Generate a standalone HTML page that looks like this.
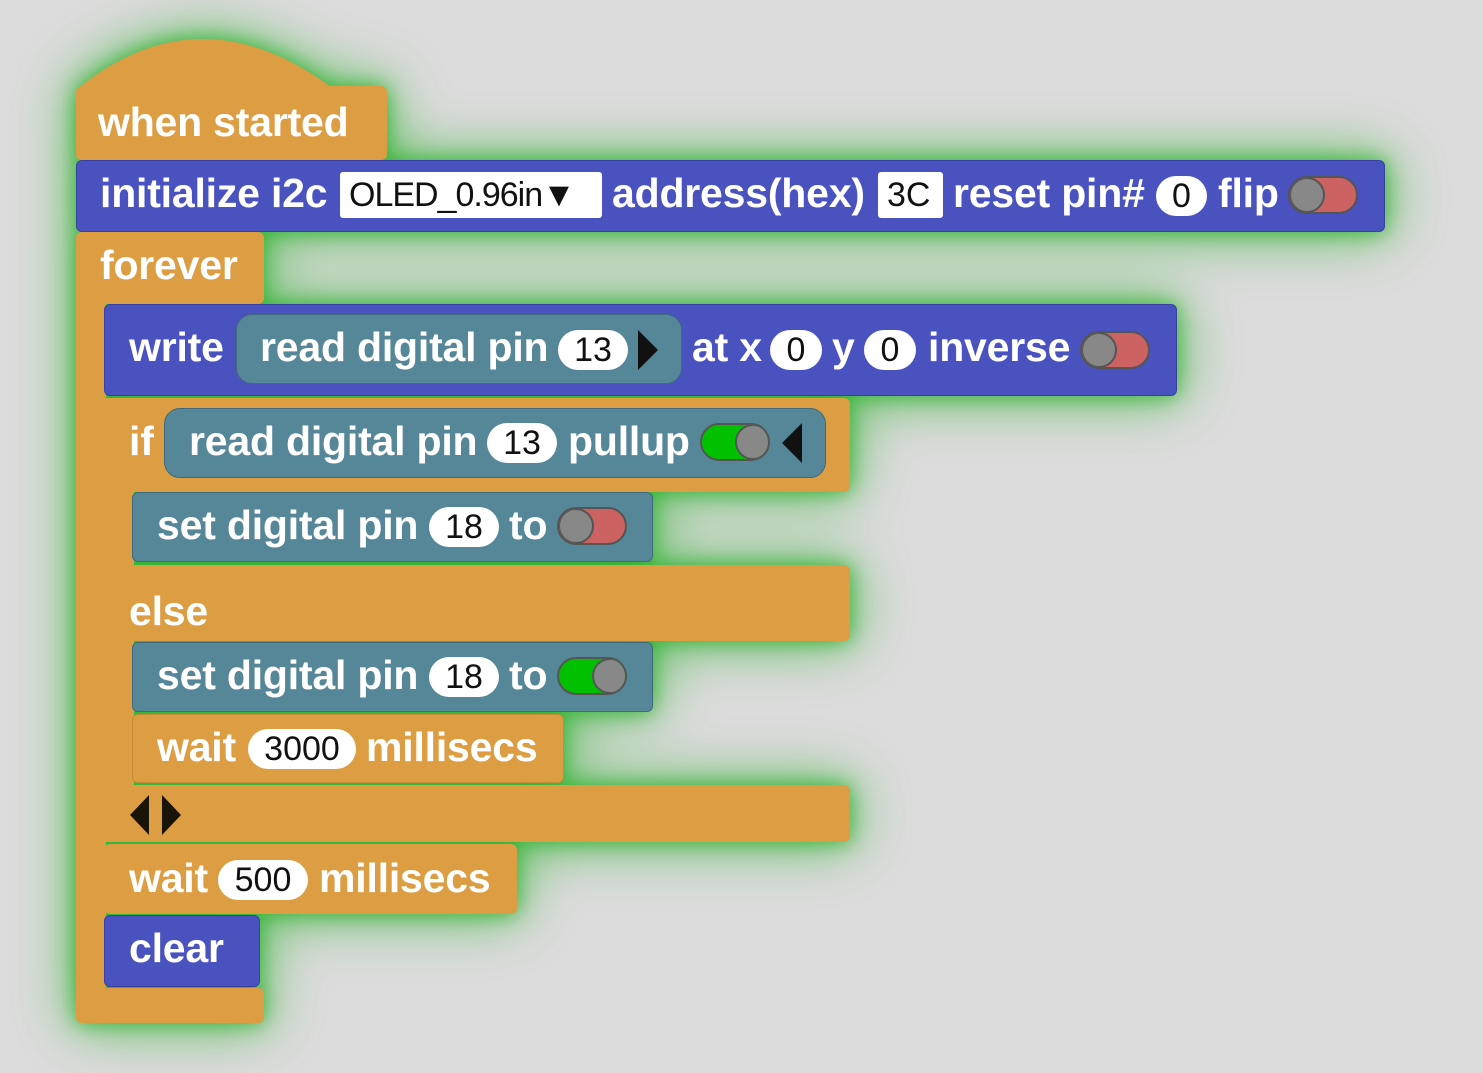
<!DOCTYPE html>
<html><head><meta charset="utf-8"><style>
body{margin:0;width:1483px;height:1073px;background:#dcdcdc;overflow:hidden;font-family:"Liberation Sans",sans-serif}
#g{position:absolute;left:0;top:0;width:1483px;height:1073px;filter:drop-shadow(0 0 10px rgba(50,180,50,.95)) drop-shadow(0 0 28px rgba(60,180,60,.8))}
.b{position:absolute;box-sizing:border-box;border-radius:6px}
.o{background:#dd9e43}
.u{background:#4952bf;border:1px solid #3840a0}
.t{background:#558799;border:1px solid #3e6b7c}
.r{border-radius:16px}
.l{position:absolute;color:#fff;font-weight:bold;font-size:41px;line-height:1;white-space:nowrap;letter-spacing:-0.2px}
.p{position:absolute;background:#fff;border-radius:20px;color:#111;font-size:34px;line-height:40px;text-align:center;height:40px}
.bx{position:absolute;background:#fff;border-radius:3px;color:#111;font-size:34px;line-height:46px;height:46px}
.tg{position:absolute;width:70px;height:38px;border-radius:19px;box-sizing:border-box;border:2px solid #555;overflow:hidden}
.tg i{position:absolute;top:-1px;width:36px;height:36px;border-radius:18px;background:#888;border:2px solid #555;box-sizing:border-box}
.tri{position:absolute;width:0;height:0;border-top:20px solid transparent;border-bottom:20px solid transparent}
</style></head><body>
<div id="g">
<svg style="position:absolute;left:0;top:0" width="1483" height="1073"><path d="M76 90 Q200 -12 335 90 Z" fill="#dd9e43"/></svg>
<div class="b o" style="left:76px;top:86px;width:311px;height:74px"></div>
<div class="l" style="left:98px;top:102px">when started</div>
<div class="b o" style="left:76px;top:232px;width:188px;height:72px"></div>
<div class="b o" style="left:76px;top:232px;width:30px;height:790px;border-radius:6px 0 0 6px"></div>
<div class="b o" style="left:76px;top:988px;width:188px;height:35px"></div>
<div class="l" style="left:100px;top:245px">forever</div>
<div class="b u" style="left:76px;top:160px;width:1309px;height:72px"></div>
<div class="l" style="left:100px;top:173px">initialize i2c</div>
<div class="bx" style="left:340px;top:172px;width:262px"><span style="position:absolute;left:9px;letter-spacing:-1px">OLED_0.96in▼</span></div>
<div class="l" style="left:612px;top:173px">address(hex)</div>
<div class="bx" style="left:878px;top:172px;width:65px"><span style="position:absolute;left:9px">3C</span></div>
<div class="l" style="left:953px;top:173px">reset pin#</div>
<div class="p" style="left:1156px;top:176px;width:51px">0</div>
<div class="l" style="left:1218px;top:173px">flip</div>
<div class="tg" style="left:1288px;top:176px;background:#cc6262"><i style="left:-1px"></i></div>
<div class="b u" style="left:104px;top:304px;width:1073px;height:92px"></div>
<div class="l" style="left:129px;top:327px">write</div>
<div class="b t r" style="left:236px;top:314px;width:446px;height:70px"></div>
<div class="l" style="left:260px;top:327px">read digital pin</div>
<div class="p" style="left:558px;top:330px;width:70px">13</div>
<div class="tri" style="left:638px;top:330px;border-left:20px solid #111"></div>
<div class="l" style="left:692px;top:327px">at x</div>
<div class="p" style="left:770px;top:330px;width:52px">0</div>
<div class="l" style="left:832px;top:327px">y</div>
<div class="p" style="left:864px;top:330px;width:52px">0</div>
<div class="l" style="left:928px;top:327px">inverse</div>
<div class="tg" style="left:1080px;top:331px;background:#cc6262"><i style="left:-1px"></i></div>
<div class="b o" style="left:104px;top:398px;width:746px;height:94px"></div>
<div class="b o" style="left:104px;top:398px;width:30px;height:444px;border-radius:0"></div>
<div class="b o" style="left:104px;top:565px;width:746px;height:76px"></div>
<div class="b o" style="left:104px;top:785px;width:746px;height:57px"></div>
<div class="l" style="left:129px;top:421px">if</div>
<div class="b t r" style="left:164px;top:408px;width:662px;height:70px"></div>
<div class="l" style="left:189px;top:421px">read digital pin</div>
<div class="p" style="left:487px;top:423px;width:70px">13</div>
<div class="l" style="left:568px;top:421px">pullup</div>
<div class="tg" style="left:700px;top:423px;background:#00c000"><i style="left:33px"></i></div>
<div class="tri" style="left:782px;top:423px;border-right:20px solid #111"></div>
<div class="b t" style="left:132px;top:492px;width:521px;height:70px"></div>
<div class="l" style="left:157px;top:505px">set digital pin</div>
<div class="p" style="left:429px;top:507px;width:70px">18</div>
<div class="l" style="left:509px;top:505px">to</div>
<div class="tg" style="left:557px;top:507px;background:#cc6262"><i style="left:-1px"></i></div>
<div class="l" style="left:129px;top:591px">else</div>
<div class="b t" style="left:132px;top:642px;width:521px;height:70px"></div>
<div class="l" style="left:157px;top:655px">set digital pin</div>
<div class="p" style="left:429px;top:657px;width:70px">18</div>
<div class="l" style="left:509px;top:655px">to</div>
<div class="tg" style="left:557px;top:657px;background:#00c000"><i style="left:33px"></i></div>
<div class="b o" style="left:132px;top:714px;width:432px;height:69px;border:1px solid #c48a35"></div>
<div class="l" style="left:157px;top:727px">wait</div>
<div class="p" style="left:248px;top:729px;width:108px">3000</div>
<div class="l" style="left:366px;top:727px">millisecs</div>
<div class="tri" style="left:130px;top:795px;border-right:19px solid #1a1408"></div>
<div class="tri" style="left:162px;top:795px;border-left:19px solid #1a1408"></div>
<div class="b o" style="left:104px;top:844px;width:413px;height:70px"></div>
<div class="l" style="left:129px;top:858px">wait</div>
<div class="p" style="left:218px;top:860px;width:90px">500</div>
<div class="l" style="left:319px;top:858px">millisecs</div>
<div class="b u" style="left:104px;top:915px;width:156px;height:72px"></div>
<div class="l" style="left:129px;top:928px">clear</div>
</div>
</body></html>
